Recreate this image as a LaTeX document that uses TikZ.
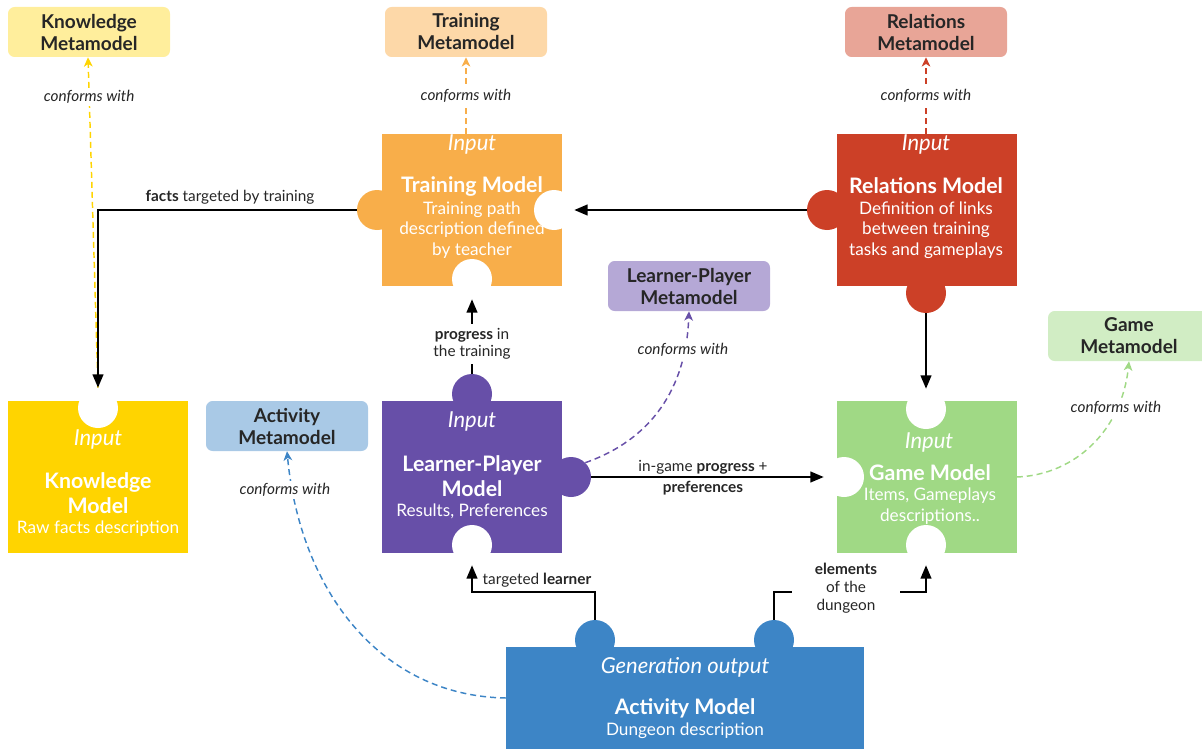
\documentclass[tikz,border=0pt]{standalone}
\usepackage{fontspec}
\setmainfont{Lato}
\usetikzlibrary{arrows.meta}
\definecolor{txt}{HTML}{262626}
\definecolor{cY}{HTML}{FFD400}\definecolor{lY}{HTML}{FFEE9C}
\definecolor{cO}{HTML}{F8AE4A}\definecolor{lO}{HTML}{FDD8A8}
\definecolor{cR}{HTML}{CC4027}\definecolor{lR}{HTML}{E8A597}
\definecolor{cP}{HTML}{674FA8}\definecolor{lP}{HTML}{B5A8D6}
\definecolor{cG}{HTML}{A0D985}\definecolor{lG}{HTML}{D1EDC4}
\definecolor{cB}{HTML}{3D85C6}\definecolor{lB}{HTML}{A9C9E6}
\newcommand\myMM{\bfseries\fontsize{14.3}{16.5}\selectfont}
\newcommand\myTitle{\bfseries\fontsize{16}{18.75}\selectfont}
\newcommand\mySub{\fontsize{12.9}{15.4}\selectfont}
\newcommand\myInput{\itshape\fontsize{16.5}{18}\selectfont}
\newcommand\myLab{\fontsize{11.5}{13}\selectfont}
\tikzset{
 mm/.style={rounded corners=5pt, minimum width=121.5pt, minimum height=37.5pt, inner sep=0pt, align=center, text=txt, font=\myMM},
 pbox/.style={minimum width=135pt, minimum height=114pt, inner sep=0pt},
 tab/.style={circle, minimum size=30pt, inner sep=0pt},
 notch/.style={circle, fill=white, minimum size=30pt, inner sep=0pt},
 wtxt/.style={text=white, align=center, inner sep=0pt},
 conn/.style={draw=black, line width=1.5pt, -{Triangle[length=10pt,width=8pt]}},
 conf/.style={dashed, dash pattern=on 4.5pt off 3pt, line width=1.1pt, -{Stealth[length=7pt,width=6.5pt,inset=2pt]}},
 clab/.style={font=\myLab\itshape, text=txt, fill=white, inner sep=1.5pt},
 lab/.style={font=\myLab, text=txt, align=center, fill=white, inner sep=1.5pt}
}
\begin{document}
\begin{tikzpicture}[x=0.75pt,y=-0.75pt]
\useasboundingbox (0,0) rectangle (1202,749);
% metamodels
\node[mm, fill=lY] (kmm) at (89,32) {Knowledge\\Metamodel};
\node[mm, fill=lO] (tmm) at (466,32) {Training\\Metamodel};
\node[mm, fill=lR] (rmm) at (926,32) {Relations\\Metamodel};
\node[mm, fill=lP] (lmm) at (689,286) {Learner-Player\\Metamodel};
\node[mm, fill=lG] (gmm) at (1129,336) {Game\\Metamodel};
\node[mm, fill=lB] (amm) at (287,426) {Activity\\Metamodel};
% puzzle boxes
\node[pbox, fill=cO] (tr) at (472,210) {};
\node[tab, fill=cO] (trTabL) at (377,210) {};
\node[pbox, fill=cR] (rel) at (926.5,210) {};
\node[tab, fill=cR] (relTabL) at (827,210) {};
\node[tab, fill=cR] (relTabB) at (926,293) {};
\node[pbox, fill=cP] (lp) at (472,477) {};
\node[tab, fill=cP] (lpTabT) at (472,394) {};
\node[tab, fill=cP] (lpTabR) at (571,477) {};
\node[pbox, fill=cY] (km) at (98,477) {};
\node[pbox, fill=cG] (gm) at (926.5,477) {};
\fill[cB] (506,647) rectangle (864,770);
\coordinate (acW) at (506,698);
\node[tab, fill=cB] (acTab1) at (595,640) {};
\node[tab, fill=cB] (acTab2) at (774,640) {};
% notches
\node[notch] (trNotchR) at (554,210) {};
\node[notch] (trNotchB) at (472,279) {};
\node[notch] (kmNotch) at (98,408) {};
\node[notch] (gmNotchT) at (926,409) {};
\node[notch] (gmNotchL) at (844,477) {};
\node[notch] (gmNotchB) at (926,545) {};
\node[notch] (lpNotchB) at (472,545) {};
% box texts
\node[wtxt, font=\myInput] at (472,145) {Input};
\node[wtxt, font=\myTitle] at (472,186) {Training Model};
\node[wtxt, font=\mySub] at (472,230) {Training path\\description defined\\by teacher};
\node[wtxt, font=\myInput] at (926,145) {Input};
\node[wtxt, font=\myTitle] at (926,186) {Relations Model};
\node[wtxt, font=\mySub] at (926,230) {Definition of links\\between training\\tasks and gameplays};
\node[wtxt, font=\myInput] at (472,421) {Input};
\node[wtxt, font=\myTitle] at (472,476) {Learner-Player\\Model};
\node[wtxt, font=\mySub] at (472,511) {Results, Preferences};
\node[wtxt, font=\myInput] at (98,439) {Input};
\node[wtxt, font=\myTitle] at (98,493.5) {Knowledge\\Model};
\node[wtxt, font=\mySub] at (98,529) {Raw facts description};
\node[wtxt, font=\myInput] at (929,442) {Input};
\node[wtxt, font=\myTitle] at (930,473) {Game Model};
\node[wtxt, font=\mySub] at (930,506) {Items, Gameplays\\descriptions..};
\node[wtxt, font=\myInput] at (685,667) {Generation output};
\node[wtxt, font=\myTitle] at (685,708) {Activity Model};
\node[wtxt, font=\mySub] at (685,731) {Dungeon description};
% conforms-with connectors
\draw[conf, draw=cY] (kmNotch.north) -- (kmm.south -| 88,0) node[clab, pos=0.88] {conforms with};
\draw[conf, draw=cO] (tr.north -| tmm.south) -- (tmm.south) node[clab, pos=0.5] {conforms with};
\draw[conf, draw=cR] (rel.north -| rmm.south) -- (rmm.south) node[clab, pos=0.5] {conforms with};
\draw[conf, draw=cP] (lpTabR.north east) .. controls (650,440) and (686,390) .. (lmm.south);
\draw[conf, draw=cG] (gm.east) .. controls (1075,475) and (1122,430) .. (gmm.south);
\draw[conf, draw=cB] (acW) .. controls (380,696) and (300,590) .. (amm.south);
\node[clab] at (683,350) {conforms with};
\node[clab] at (1116,408) {conforms with};
\node[clab] at (285,490) {conforms with};
% solid connectors
\draw[conn] (trTabL.west) -| (kmNotch.north);
\node[lab, fill=none] at (230,197) {\textbf{facts} targeted by training};
\draw[conn] (relTabL.west) -- (trNotchR.east);
\draw[conn] (relTabB.south) -- (gmNotchT.north);
\draw[conn] (lpTabT.north) -- (trNotchB.south) node[lab, pos=0.4, inner ysep=3pt] {\textbf{progress} in\\the training};
\draw[conn] (lpTabR.east) -- (gmNotchL.west);
\node[lab, fill=none] at (703,467) {in-game \textbf{progress} +};
\node[lab, fill=none] at (703,488) {\textbf{preferences}};
\draw[conn] (acTab1.north) -- ++(0,-28) -| (lpNotchB.south);
\node[lab, fill=none] at (537,580) {targeted \textbf{learner}};
\draw[conn] (acTab2.north) -- ++(0,-28) -| (gmNotchB.south);
\node[lab, inner xsep=17pt, inner ysep=0pt, font=\fontsize{11.5}{13.5}\selectfont] at (846,588) {\textbf{elements}\\of the\\dungeon};
\end{tikzpicture}
\end{document}
